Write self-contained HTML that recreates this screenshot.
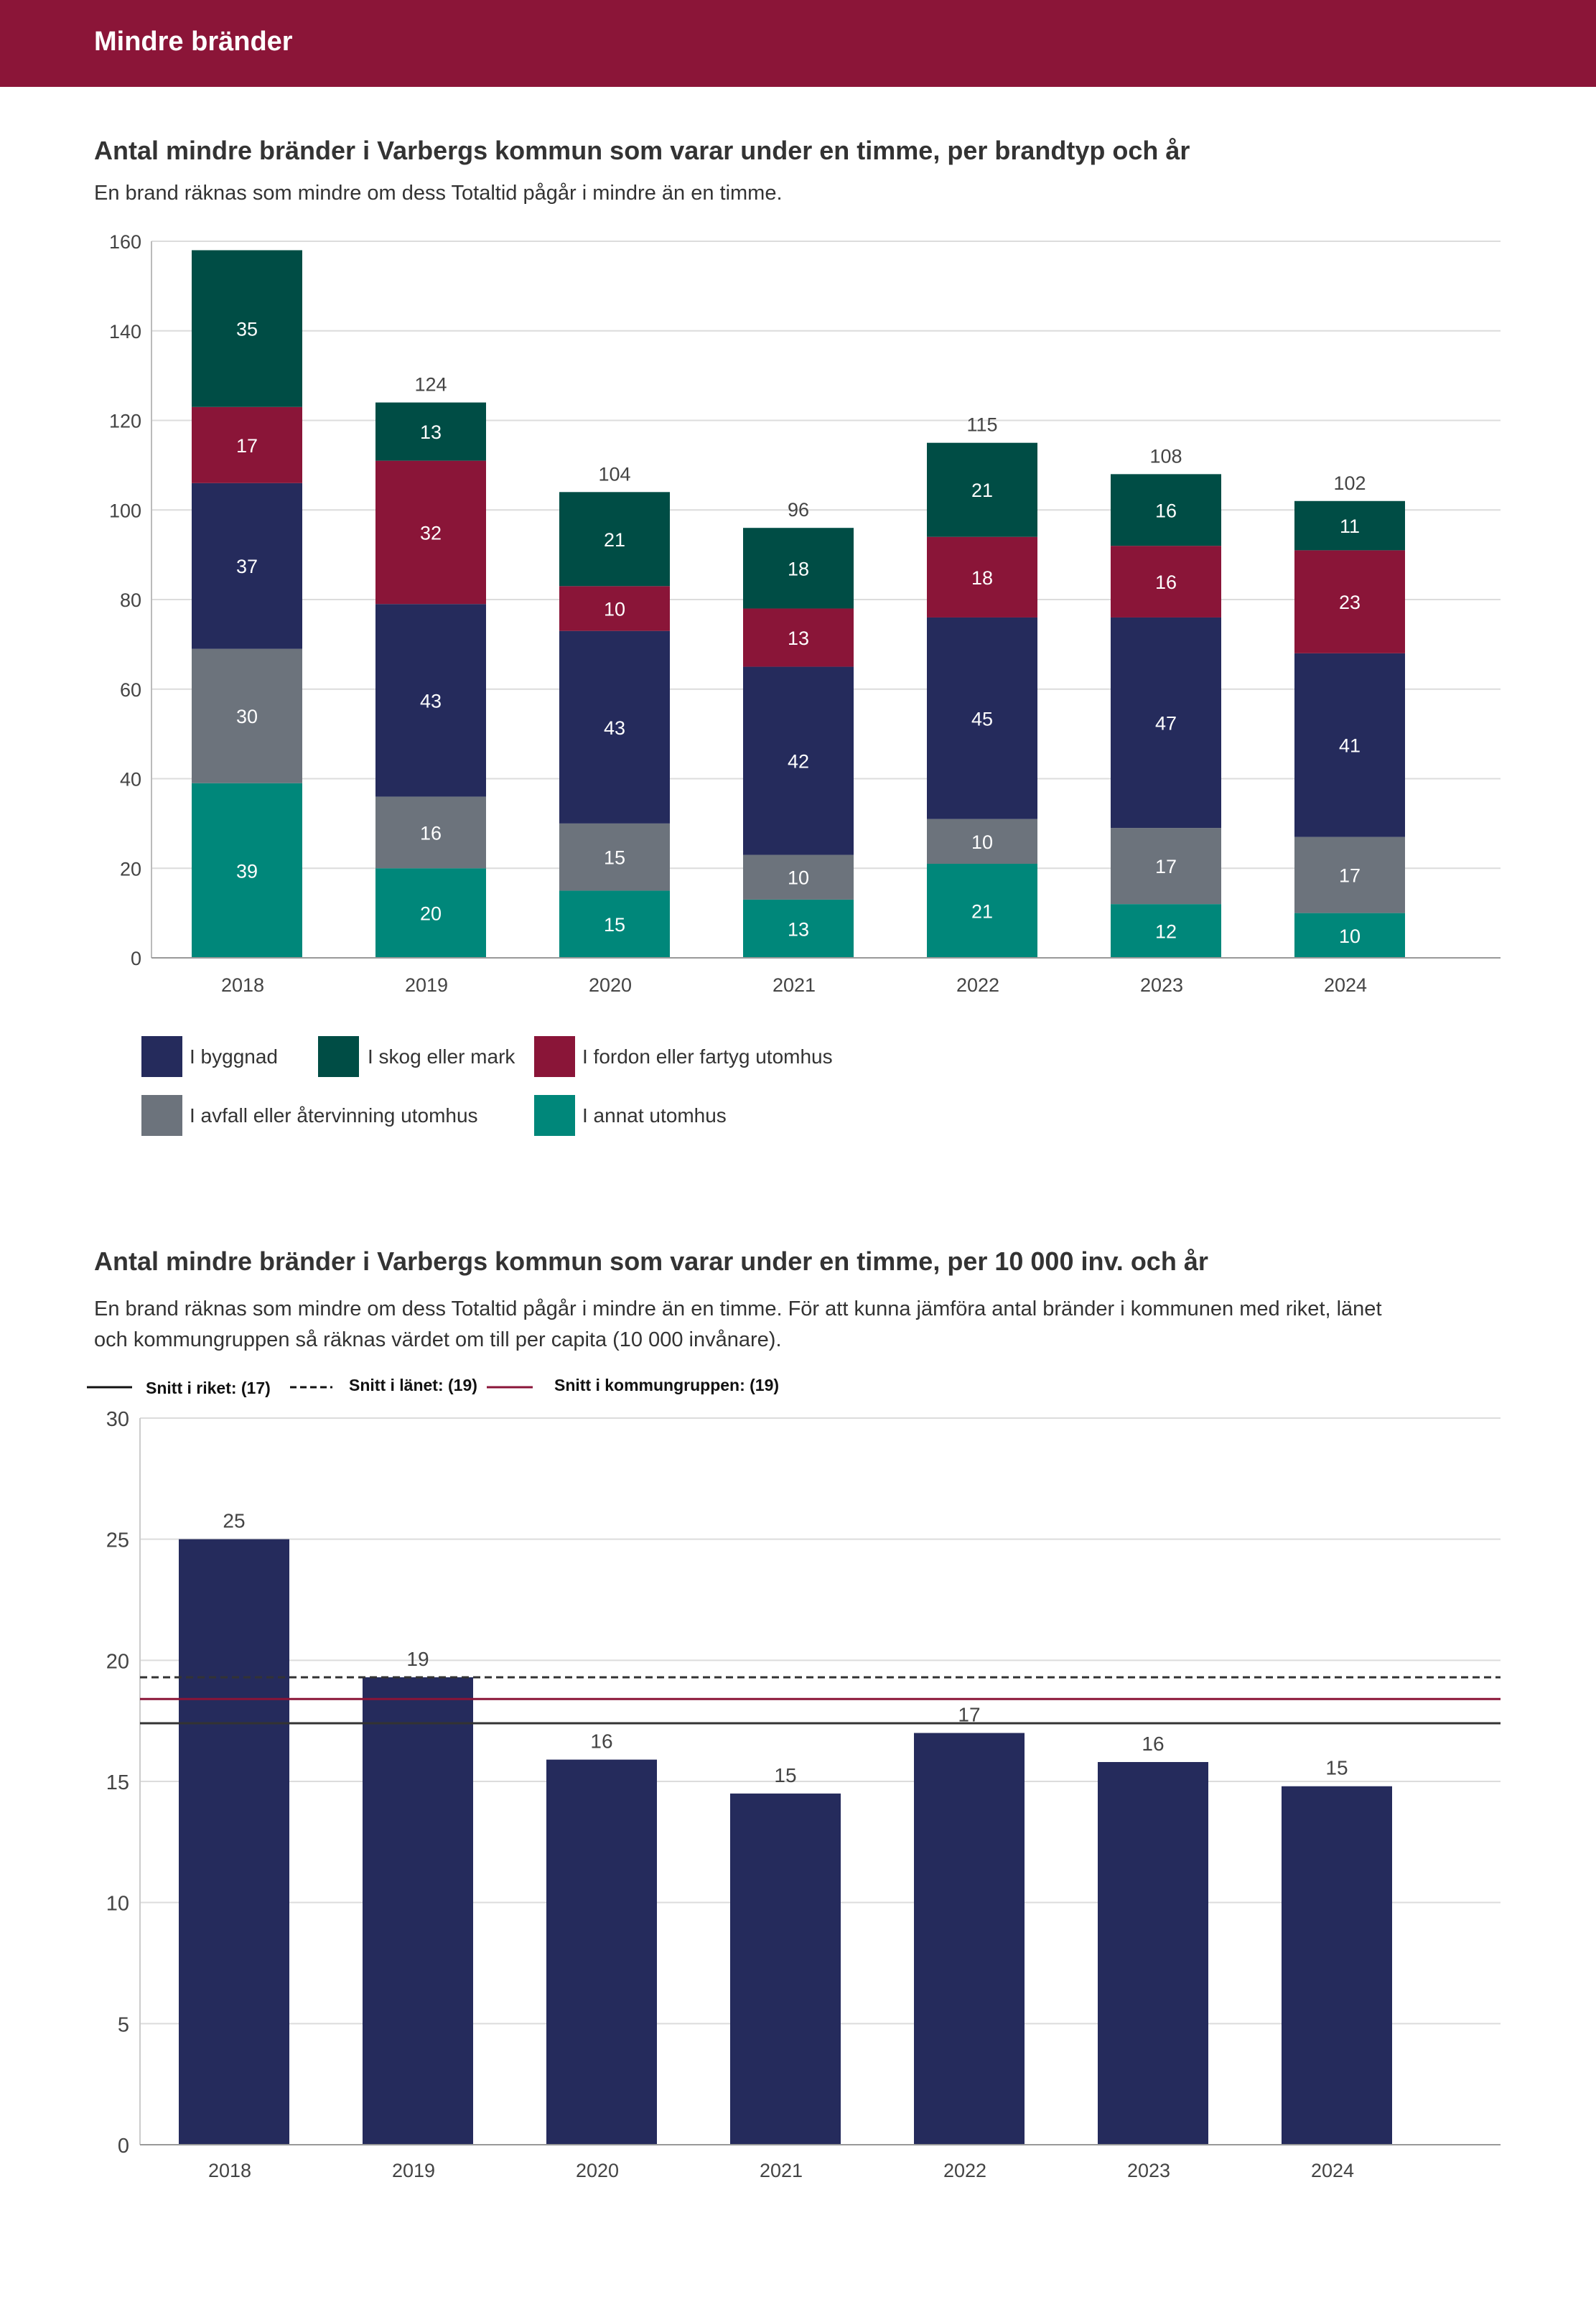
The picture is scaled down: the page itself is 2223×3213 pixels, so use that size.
<!DOCTYPE html>
<html><head><meta charset="utf-8"><style>
html,body{margin:0;padding:0;background:#fff}
svg{display:block}
text{font-family:"Liberation Sans",sans-serif}
.n{font-family:"Liberation Sans Narrow","Liberation Sans",sans-serif}
</style></head><body>
<svg id="page" width="2223" height="3213" viewBox="0 0 2223 3213" xmlns="http://www.w3.org/2000/svg">
<rect x="0" y="0" width="2223" height="121" fill="#8b1538"/>
<text x="131" y="70" font-size="38" font-weight="bold" fill="#fff">Mindre bränder</text>
<text x="131" y="222" font-size="36" font-weight="bold" fill="#333">Antal mindre bränder i Varbergs kommun som varar under en timme, per brandtyp och år</text>
<text x="131" y="278" font-size="29" fill="#333">En brand räknas som mindre om dess Totaltid pågår i mindre än en timme.</text>
<g id="c1"></g>
<g>
<rect x="197" y="1443" width="57" height="57" fill="#252b5c"/>
<text x="264" y="1481" font-size="28" fill="#333">I byggnad</text>
<rect x="443" y="1443" width="57" height="57" fill="#004d45"/>
<text x="512" y="1481" font-size="28" fill="#333">I skog eller mark</text>
<rect x="744" y="1443" width="57" height="57" fill="#8a1538"/>
<text x="811" y="1481" font-size="28" fill="#333">I fordon eller fartyg utomhus</text>
<rect x="197" y="1525" width="57" height="57" fill="#6c737c"/>
<text x="264" y="1563" font-size="28" fill="#333">I avfall eller återvinning utomhus</text>
<rect x="744" y="1525" width="57" height="57" fill="#00877a"/>
<text x="811" y="1563" font-size="28" fill="#333">I annat utomhus</text>
</g>
<text x="131" y="1769" font-size="36" font-weight="bold" fill="#333">Antal mindre bränder i Varbergs kommun som varar under en timme, per 10 000 inv. och år</text>
<text x="131" y="1832" font-size="29" fill="#333">En brand räknas som mindre om dess Totaltid pågår i mindre än en timme. För att kunna jämföra antal bränder i kommunen med riket, länet</text>
<text x="131" y="1875" font-size="29" fill="#333">och kommungruppen så räknas värdet om till per capita (10 000 invånare).</text>
<g>
<line x1="121" y1="1932" x2="184" y2="1932" stroke="#111" stroke-width="3"/>
<text class="n" x="203" y="1941" font-size="23" font-weight="bold" fill="#111">Snitt i riket: (17)</text>
<line x1="404" y1="1932" x2="463" y2="1932" stroke="#111" stroke-width="3" stroke-dasharray="9,5"/>
<text class="n" x="486" y="1937" font-size="23" font-weight="bold" fill="#111">Snitt i länet: (19)</text>
<line x1="678" y1="1932" x2="742" y2="1932" stroke="#8a1538" stroke-width="3"/>
<text class="n" x="772" y="1937" font-size="23" font-weight="bold" fill="#111">Snitt i kommungruppen: (19)</text>
</g>
<g id="c2"></g>
</svg>
<script>
const years = ["2018","2019","2020","2021","2022","2023","2024"];
const annat = [39,20,15,13,21,12,10];
const avfall = [30,16,15,10,10,17,17];
const byggnad = [37,43,43,42,45,47,41];
const fordon = [17,32,10,13,18,16,23];
const skog = [35,13,21,18,21,16,11];
const ticks1 = [0,20,40,60,80,100,120,140,160];
const perCapita = [25,19.3,15.9,14.5,17.0,15.8,14.8];
const ticks2 = [0,5,10,15,20,25,30];
const snittRiket = 17.4;
const snittLanet = 19.3;
const snittGrupp = 18.4;

const NS="http://www.w3.org/2000/svg";
function mk(parent,tag,attrs,txt){const e=document.createElementNS(NS,tag);for(const k in attrs)e.setAttribute(k,attrs[k]);if(txt!==undefined)e.textContent=txt;parent.appendChild(e);return e;}

// Chart 1
(function(){
const g=document.getElementById('c1');
const L=211,R=2090,Y0=1334,Y1=336,max=160;
const y=v=>Y0-(v/max)*(Y0-Y1);
const x=i=>344+i*256;
const bw=154;
ticks1.forEach(t=>{
  const gl=mk(g,'line',{x1:L,x2:R,y1:y(t),y2:y(t),stroke:'#dcdcdc','stroke-width':2});
  
  
  const tl=mk(g,'text',{x:L-14,y:y(t)+10,'font-size':27,fill:'#444','text-anchor':'end'},String(t));
  
  
});
const ax=mk(g,'line',{x1:L,x2:L,y1:Y1,y2:Y0,stroke:'#bbb','stroke-width':2});


const series=[[annat,'#00877a','annat'],[avfall,'#6c737c','avfall'],[byggnad,'#252b5c','byggnad'],[fordon,'#8a1538','fordon'],[skog,'#004d45','skog']];
years.forEach((yr,i)=>{
  let acc=0;
  series.forEach(([arr,col,nm])=>{
    const v=arr[i];
    const r=mk(g,'rect',{x:x(i)-bw/2,y:y(acc+v),width:bw,height:y(acc)-y(acc+v),fill:col});
    
    
    const t=mk(g,'text',{x:x(i),y:(y(acc)+y(acc+v))/2+10,'font-size':27,fill:'#fff','text-anchor':'middle'},String(v));
    
    
    acc+=v;
  });
  if(y(acc)-25>Y1+20){
    const tt=mk(g,'text',{x:x(i),y:y(acc)-16,'font-size':27,fill:'#444','text-anchor':'middle'},String(acc));
    
    
  }
  const xl=mk(g,'text',{x:x(i)-6,y:1381,'font-size':27,fill:'#444','text-anchor':'middle'},yr);
  
  
});
const xa=mk(g,'line',{x1:L,x2:R,y1:Y0,y2:Y0,stroke:'#999','stroke-width':2});


})();

// Chart 2
(function(){
const g=document.getElementById('c2');
const L=195,R=2090,Y0=2987,Y1=1975,max=30;
const y=v=>Y0-(v/max)*(Y0-Y1);
const x=i=>326+i*256;
const bw=154;
ticks2.forEach(t=>{
  const gl=mk(g,'line',{x1:L,x2:R,y1:y(t),y2:y(t),stroke:'#dcdcdc','stroke-width':2});
  
  
  const tl=mk(g,'text',{x:180,y:y(t)+11,'font-size':29,fill:'#444','text-anchor':'end','class':'n'},String(t));
  
  
});
const ax=mk(g,'line',{x1:L,x2:L,y1:Y1,y2:Y0,stroke:'#ccc','stroke-width':2});


years.forEach((yr,i)=>{
  const v=perCapita[i];
  const r=mk(g,'rect',{x:x(i)-bw/2,y:y(v),width:bw,height:Y0-y(v),fill:'#252b5c'});
  
  
  const t=mk(g,'text',{x:x(i),y:y(v)-16,'font-size':28,fill:'#444','text-anchor':'middle','class':'n'},String(Math.round(v)));
  
  
  const xl=mk(g,'text',{x:x(i)-6,y:3032,'font-size':27,fill:'#444','text-anchor':'middle'},yr);
  
  
});
const l1=mk(g,'line',{x1:L,x2:R,y1:y(snittLanet),y2:y(snittLanet),stroke:'#333','stroke-width':3,'stroke-dasharray':'10,6'});


const l2=mk(g,'line',{x1:L,x2:R,y1:y(snittGrupp),y2:y(snittGrupp),stroke:'#8a1538','stroke-width':3});


const l3=mk(g,'line',{x1:L,x2:R,y1:y(snittRiket),y2:y(snittRiket),stroke:'#333','stroke-width':3});


const xa=mk(g,'line',{x1:L,x2:R,y1:Y0,y2:Y0,stroke:'#999','stroke-width':2});


})();
</script>
</body></html>
